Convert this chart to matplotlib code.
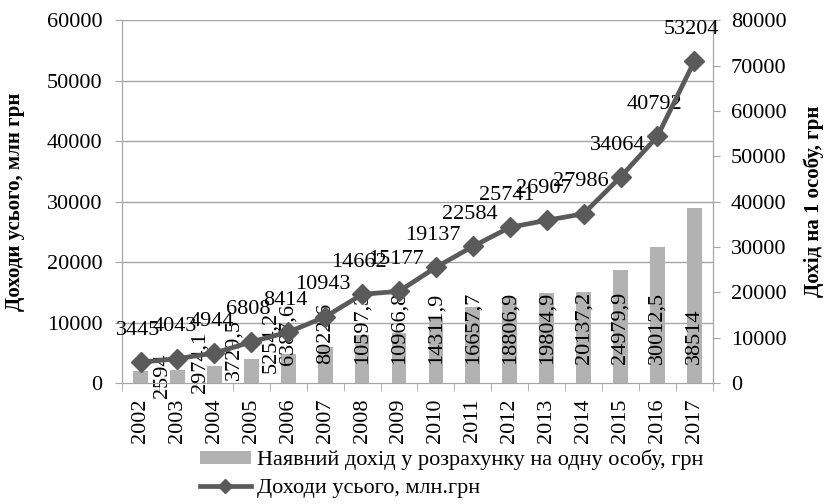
import numpy as np
import matplotlib
matplotlib.use("Agg")
import matplotlib.pyplot as plt
from matplotlib.lines import Line2D
from matplotlib.patches import Patch

### data
years = [str(y) for y in range(2002, 2018)]
per_person = [2594, 2974.1, 3729.5, 5254.2, 6387.6, 8022.6, 10597.3, 10966.8,
              14311.9, 16657.7, 18806.9, 19804.9, 20137.2, 24979.9, 30012.5, 38514]
total_income = [3445, 4043, 4944, 6808, 8414, 10943, 14662, 15177,
                19137, 22584, 25741, 26907, 27986, 34064, 40792, 53204]
left_ticks = [0, 10000, 20000, 30000, 40000, 50000, 60000]
right_ticks = [0, 10000, 20000, 30000, 40000, 50000, 60000, 70000, 80000]

bar_name = "Наявний дохід у розрахунку на одну особу, грн"
line_name = "Доходи усього, млн.грн"

plt.rcParams['font.family'] = ['Liberation Serif', 'DejaVu Serif']
FS = 16
BAR_C = '#b2b2b2'
LINE_C = '#5a5a5a'
GRID_C = '#a6a6a6'

fig = plt.figure(figsize=(8.25, 5.04), dpi=100)
ax2 = fig.add_axes([0.148, 0.240, 0.716, 0.720])   # bars, right scale
ax = ax2.twinx()                                     # line, left scale

x = np.arange(len(years))

# gridlines follow the left scale, drawn behind bars
for t in left_ticks[1:]:
    ax2.axhline(t * right_ticks[-1] / left_ticks[-1], color=GRID_C, lw=1, zorder=0)

ax2.bar(x, per_person, width=0.4, color=BAR_C, zorder=2)
ax2.set_ylim(0, right_ticks[-1])
ax2.set_xlim(-0.5, len(years) - 0.5)

# bar labels, rotated; the first few sit beside their short bars
offs = [(16, -11), (16, -7), (14, 2), (14, 7), (0, 13)] + [(0, 14)] * (len(years) - 5)
for i, v in enumerate(per_person):
    s = f"{v:g}".replace('.', ',')
    ax2.annotate(s, (i, 0), xytext=offs[i], textcoords='offset points',
                 ha='center', va='bottom', rotation=90, fontsize=FS, zorder=5)

ax.plot(x, total_income, color=LINE_C, lw=3.4, marker='D', markersize=10,
        zorder=4)
ax.set_ylim(0, left_ticks[-1])
for i, v in enumerate(total_income):
    ax.annotate(str(v), (i, v), xytext=(-2, 23), textcoords='offset points',
                ha='center', va='center', fontsize=FS)

# put left scale on the left, right scale on the right
ax.yaxis.tick_left()
ax.yaxis.set_label_position('left')
ax2.yaxis.tick_right()
ax2.yaxis.set_label_position('right')
ax.set_zorder(ax2.get_zorder() + 1)
ax.patch.set_visible(False)

ax.set_yticks(left_ticks)
ax.set_yticklabels([str(t) for t in left_ticks], fontsize=FS)
ax2.set_yticks(right_ticks)
ax2.set_yticklabels([str(t) for t in right_ticks], fontsize=FS)

ax2.set_xticks(x)
ax2.set_xticklabels(years, rotation=90, fontsize=FS)
ax2.set_xticks(np.arange(len(years) + 1) - 0.5, minor=True)
ax2.tick_params(axis='x', which='major', length=0, pad=11)
ax2.tick_params(axis='x', which='minor', length=6, color=GRID_C)
ax2.tick_params(axis='y', length=5, color=GRID_C, pad=8)
ax.tick_params(axis='y', length=5, color=GRID_C, pad=9)
ax.tick_params(axis='x', bottom=False, labelbottom=False)

for a in (ax, ax2):
    for sp in a.spines.values():
        sp.set_color(GRID_C)
    a.spines['top'].set_visible(False)

ax.set_ylabel("Доходи усього, млн грн", fontsize=15, fontweight='bold', labelpad=16)
ax2.set_ylabel("Дохід на 1 особу, грн", fontsize=15, fontweight='bold',
               rotation=90, labelpad=12)

handles = [Patch(facecolor=BAR_C, edgecolor='none'),
           Line2D([], [], color=LINE_C, lw=3.4, marker='D', markersize=7)]
fig.legend(handles, [bar_name, line_name], loc='upper left',
           bbox_to_anchor=(0.242, 0.108), frameon=False, fontsize=FS,
           handlelength=2.3, handleheight=0.5, labelspacing=0.4,
           handletextpad=0.3, borderpad=0, borderaxespad=0)

fig.savefig("out.png", dpi=100)
